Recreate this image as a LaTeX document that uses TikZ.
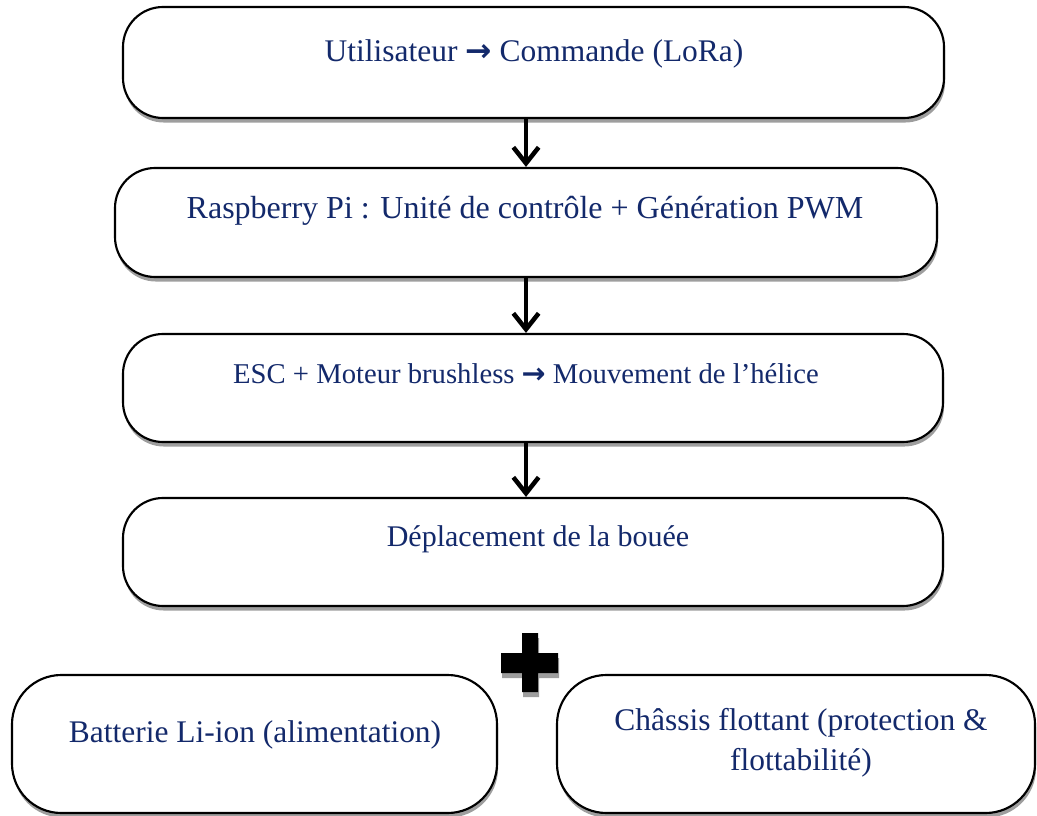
\documentclass[tikz,border=0pt]{standalone}
\usepackage{fontspec}
\setmainfont{Liberation Serif}
\newfontfamily\symfont{DejaVu Sans}
\usetikzlibrary{arrows.meta,shadows,fit}
\definecolor{navy}{HTML}{13296B}
\newcommand{\arrowglyph}{ {\symfont\bfseries →} }
\begin{document}
\begin{tikzpicture}[x=0.75pt,y=-0.75pt,
  box/.style={draw=black, line width=1.6pt, fill=white, rounded corners=#1, inner sep=0pt,
    drop shadow={shadow xshift=0.8pt, shadow yshift=-3.4pt, fill=black!38, opacity=1}},
  lbl/.style={text=navy, inner sep=0pt, font=\fontsize{23.6pt}{30pt}\selectfont},
  arr/.style={line width=3.4pt, -{Straight Barb[length=12pt,width=19pt,line width=3.4pt]}},
  plusshadow/.style={fill=black!38},
  plussign/.style={fill=black}]
\useasboundingbox (0,0) rectangle (1037,816);

% main chain
\node[box=30pt, fit={(123,7) (944,118)}] (b1) {};
\node[box=30pt, fit={(115,168) (937,277)}] (b2) {};
\node[box=30pt, fit={(123,334) (943,442)}] (b3) {};
\node[box=30pt, fit={(123,498) (943,606)}] (b4) {};

% bottom boxes
\node[box=37pt, fit={(12,675) (497,813)}] (b5) {};
\node[box=37pt, fit={(557,675) (1035,813)}] (b6) {};

% texts
\node[lbl, anchor=base] (t1) at (534,62) {Utilisateur\arrowglyph Commande (LoRa)};
\node[lbl, anchor=base, font=\fontsize{24pt}{30pt}\selectfont] (t2) at (525,219) {Raspberry Pi : Unité de contrôle + Génération PWM};
\node[lbl, anchor=base, font=\fontsize{21.5pt}{26pt}\selectfont] (t3) at (526,383) {ESC + Moteur brushless\arrowglyph Mouvement de l’hélice};
\node[lbl, anchor=base, font=\fontsize{22.5pt}{28pt}\selectfont] (t4) at (538,546) {Déplacement de la bouée};
\node[lbl, anchor=base] (t5) at (255,742) {Batterie Li-ion (alimentation)};
\node[lbl, anchor=base, align=center] (t6) at (801,770) {Châssis flottant (protection \&\\flottabilité)};

% arrows
\draw[arr] (b1.south -| b2.north) -- (b2.north);
\draw[arr] (b2.south) -- (b3.north -| b2.south);
\draw[arr] (b3.south -| b2.south) -- (b4.north -| b2.south);

% plus sign
\begin{scope}[shift={(1.2,5)}]
  \fill[plusshadow] (522,633) -- (538,633) -- (538,653) -- (558,653) -- (558,673) -- (538,673)
    -- (538,692) -- (522,692) -- (522,673) -- (501,673) -- (501,653) -- (522,653) -- cycle;
\end{scope}
\fill[plussign] (522,633) -- (538,633) -- (538,653) -- (558,653) -- (558,673) -- (538,673)
  -- (538,692) -- (522,692) -- (522,673) -- (501,673) -- (501,653) -- (522,653) -- cycle;
\end{tikzpicture}
\end{document}
